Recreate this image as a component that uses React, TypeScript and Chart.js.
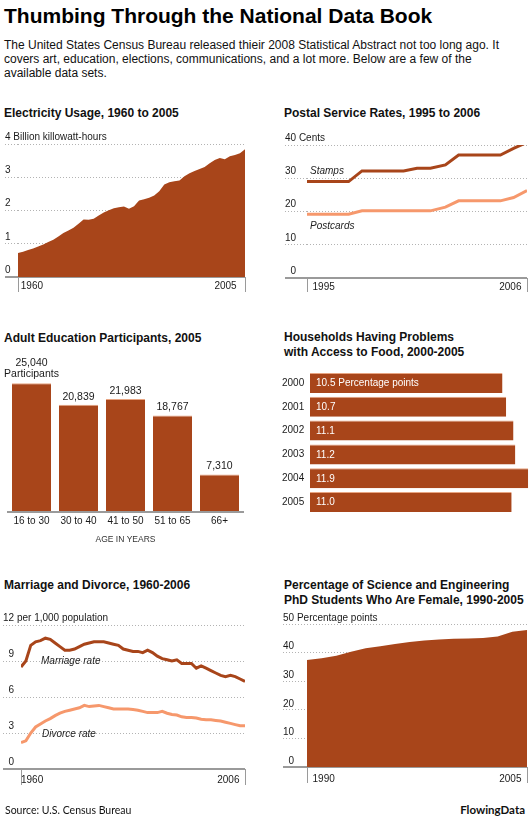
import React, { useEffect, useRef } from 'react';
import { Chart, registerables } from 'chart.js';

Chart.register(...registerables);

const FONT = "'Liberation Sans', Arial, Helvetica, sans-serif";
const RUST = '#a8451a';
const SALMON = '#f6986c';
const GRID = '#b3b3b3';
const BASE = '#9a9a9a';
const INK = '#1a1a1a';

Chart.defaults.font.family = FONT;
Chart.defaults.color = INK;

// ---------- Electricity usage ----------
const elecYears = [
  1960, 1961, 1962, 1963, 1964, 1965, 1966, 1967, 1968, 1969,
  1970, 1971, 1972, 1973, 1974, 1975, 1976, 1977, 1978, 1979,
  1980, 1981, 1982, 1983, 1984, 1985, 1986, 1987, 1988, 1989,
  1990, 1991, 1992, 1993, 1994, 1995, 1996, 1997, 1998, 1999,
  2000, 2001, 2002, 2003, 2004, 2005,
];
const elecValues = [
  0.72, 0.76, 0.81, 0.86, 0.92, 0.98, 1.05, 1.12, 1.22, 1.32,
  1.40, 1.48, 1.60, 1.73, 1.72, 1.75, 1.85, 1.94, 2.01, 2.07,
  2.10, 2.12, 2.05, 2.13, 2.30, 2.34, 2.38, 2.45, 2.58, 2.78,
  2.85, 2.88, 2.90, 3.03, 3.12, 3.19, 3.25, 3.31, 3.42, 3.52,
  3.58, 3.54, 3.63, 3.67, 3.72, 3.84,
];

// ---------- Postal rates ----------
const postalDates = [1995, 1997.08, 1997.75, 1999.83, 2000.5, 2001.17, 2001.92, 2002.58, 2004.67, 2005.33, 2006];
const stampRates = [29, 29, 32.2, 32.2, 33, 33, 34, 37, 37, 39, 40.8];
const postcardRates = [19.2, 19.2, 20.2, 20.2, 20.2, 20.2, 21.3, 23.2, 23.2, 24.2, 26.3];

// ---------- Adult education ----------
const eduGroups = ['16 to 30', '30 to 40', '41 to 50', '51 to 65', '66+'];
const eduParticipants = [25040, 20839, 21983, 18767, 7310];

// ---------- Food access ----------
const foodYears = ['2000', '2001', '2002', '2003', '2004', '2005'];
const foodPoints = [10.5, 10.7, 11.1, 11.2, 11.9, 11.0];

// ---------- Marriage and divorce ----------
const mdYears = [
  1960, 1961, 1962, 1963, 1964, 1965, 1966, 1967, 1968, 1969,
  1970, 1971, 1972, 1973, 1974, 1975, 1976, 1977, 1978, 1979,
  1980, 1981, 1982, 1983, 1984, 1985, 1986, 1987, 1988, 1989,
  1990, 1991, 1992, 1993, 1994, 1995, 1996, 1997, 1998, 1999,
  2000, 2001, 2002, 2003, 2004, 2005, 2006,
];
const marriageRates = [
  8.5, 9.0, 10.3, 10.6, 10.7, 10.9, 10.8, 10.5, 10.2, 9.9,
  9.9, 10.0, 10.2, 10.4, 10.5, 10.6, 10.6, 10.6, 10.5, 10.4,
  10.3, 10.0, 9.9, 9.8, 9.8, 9.7, 9.9, 9.7, 9.4, 9.2,
  9.1, 9.0, 9.1, 8.8, 8.8, 8.8, 8.4, 8.6, 8.4, 8.2,
  8.0, 7.8, 7.7, 7.8, 7.7, 7.5, 7.3,
];
const divorceRates = [
  2.2, 2.35, 3.0, 3.5, 3.75, 4.0, 4.2, 4.45, 4.65, 4.8,
  4.9, 5.0, 5.1, 5.3, 5.2, 5.25, 5.3, 5.2, 5.1, 5.0,
  5.0, 5.0, 5.0, 4.95, 4.9, 4.8, 4.7, 4.7, 4.7, 4.8,
  4.65, 4.55, 4.5, 4.35, 4.3, 4.3, 4.25, 4.15, 4.1, 4.1,
  4.05, 4.0, 3.9, 3.8, 3.7, 3.6, 3.6,
];

// ---------- Female PhD share ----------
const phdYears = [1990, 1991, 1992, 1993, 1994, 1995, 1996, 1997, 1998, 1999, 2000, 2001, 2002, 2003, 2004, 2005];
const phdFemale = [37.4, 38.0, 38.9, 40.3, 41.5, 42.2, 43.0, 43.7, 44.2, 44.6, 44.8, 44.9, 45.1, 45.6, 47.3, 47.9];

// ---------- helpers ----------
const isZero = (c: any) => !!(c && c.tick && c.tick.value === 0);

function yAxisCfg(max: number, step: number, width: number, labelOffset: number, unit: string) {
  const digits = String(max).length;
  return {
    type: 'linear',
    min: 0,
    max,
    afterFit: (s: any) => {
      s.width = width;
    },
    ticks: {
      stepSize: step,
      mirror: true,
      crossAlign: 'near',
      labelOffset,
      padding: -width,
      autoSkip: false,
      font: { size: 10 },
      color: INK,
      callback: (v: any) => {
        const s = String(v);
        return '\u2007'.repeat(Math.max(0, digits - s.length)) + s + (v === max ? unit : '');
      },
    },
    grid: {
      drawOnChartArea: true,
      drawTicks: true,
      tickLength: width,
      color: (c: any) => (isZero(c) ? BASE : GRID),
      lineWidth: (c: any) => (isZero(c) ? 2 : 1),
      tickColor: (c: any) => (isZero(c) ? BASE : GRID),
      tickWidth: (c: any) => (isZero(c) ? 2 : 1),
      tickBorderDash: (c: any) => (isZero(c) ? [] : [1, 2]),
    },
    border: { display: false, dash: (c: any) => (isZero(c) ? [] : [1, 2]) },
  };
}

function xAxisCfg(min: number, max: number, tickLen: number, pad: number, firstLabel: string, lastLabel: string) {
  return {
    type: 'linear',
    min,
    max,
    afterBuildTicks: (s: any) => {
      s.ticks = [{ value: min }, { value: max }];
    },
    afterFit: (s: any) => {
      s.height = 20;
    },
    grid: { drawOnChartArea: false, drawTicks: true, tickLength: tickLen, tickColor: BASE, tickWidth: 1 },
    border: { display: false },
    ticks: {
      align: 'inner',
      padding: pad,
      maxRotation: 0,
      autoSkip: false,
      font: { size: 10 },
      color: INK,
      callback: (v: any) => (v === min ? firstLabel : lastLabel),
    },
  };
}

function baseOptions(padding: any, scales: any, extra: any = {}) {
  return {
    responsive: false,
    maintainAspectRatio: false,
    animation: false,
    devicePixelRatio: 1,
    events: [],
    layout: { padding },
    plugins: { legend: { display: false }, tooltip: { enabled: false }, title: { display: false } },
    scales,
    ...extra,
  };
}

const pts = (xs: number[], ys: number[]) => xs.map((x, i) => ({ x, y: ys[i] }));

const eduLabels = {
  id: 'eduLabels',
  afterDatasetsDraw(chart: any) {
    const ctx = chart.ctx;
    const meta = chart.getDatasetMeta(0);
    ctx.save();
    ctx.font = `10.5px ${FONT}`;
    ctx.fillStyle = INK;
    ctx.textAlign = 'center';
    ctx.textBaseline = 'middle';
    meta.data.forEach((bar: any, i: number) => {
      const txt = eduParticipants[i].toLocaleString('en-US');
      if (i === 0) {
        ctx.fillText(txt, bar.x, bar.y - 20);
        ctx.fillText('Participants', bar.x, bar.y - 9);
      } else {
        ctx.fillText(txt, bar.x, bar.y - 8);
      }
    });
    ctx.restore();
  },
};

const foodLabels = {
  id: 'foodLabels',
  afterDatasetsDraw(chart: any) {
    const ctx = chart.ctx;
    const meta = chart.getDatasetMeta(0);
    const x0 = chart.scales.x.getPixelForValue(0) + 6;
    ctx.save();
    ctx.font = `10px ${FONT}`;
    ctx.fillStyle = '#ffffff';
    ctx.textAlign = 'left';
    ctx.textBaseline = 'middle';
    meta.data.forEach((bar: any, i: number) => {
      const txt = foodPoints[i].toFixed(1) + (i === 0 ? ' Percentage points' : '');
      ctx.fillText(txt, x0, bar.y + 0.5);
    });
    ctx.restore();
  },
};

function makeElectricity() {
  return {
    type: 'line',
    data: {
      datasets: [
        {
          data: pts(elecYears, elecValues),
          fill: 'origin',
          backgroundColor: RUST,
          borderWidth: 0,
          pointRadius: 0,
          tension: 0,
        },
      ],
    },
    options: baseOptions(
      { left: 5, right: 20, top: 19, bottom: 3 },
      {
        x: xAxisCfg(1960, 2005, 15, -12, ' 1960', '2005   '),
        y: yAxisCfg(4, 1, 13, -7, ' Billion killowatt-hours'),
      }
    ),
  };
}

function makePostal() {
  return {
    type: 'line',
    data: {
      datasets: [
        { data: pts(postalDates, stampRates), borderColor: RUST, borderWidth: 3, pointRadius: 0, tension: 0, fill: false },
        { data: pts(postalDates, postcardRates), borderColor: SALMON, borderWidth: 3, pointRadius: 0, tension: 0, fill: false },
      ],
    },
    options: baseOptions(
      { left: 20, right: 3, top: 20, bottom: 2 },
      {
        x: xAxisCfg(1995, 2006, 14, -11, '  1995', '2006  '),
        y: yAxisCfg(40, 10, 22, -7, ' Cents'),
      }
    ),
  };
}

function makeEducation() {
  return {
    type: 'bar',
    data: {
      labels: eduGroups,
      datasets: [
        {
          data: eduParticipants,
          backgroundColor: RUST,
          borderColor: '#e8a582',
          borderWidth: { top: 1, right: 0, bottom: 0, left: 0 },
          barPercentage: 0.83,
          categoryPercentage: 1,
        },
      ],
    },
    options: baseOptions(
      { left: 8, right: 22, top: 23, bottom: 10 },
      {
        x: {
          grid: { display: false, drawTicks: false },
          border: { display: true, color: BASE, width: 2, z: 1 },
          ticks: { padding: 3, font: { size: 10 }, color: INK, maxRotation: 0, autoSkip: false },
          title: { display: true, text: 'AGE IN YEARS', font: { size: 8.5 }, color: '#333', padding: 0 },
          afterFit: (s: any) => {
            s.height = 33;
          },
        },
        y: { display: false, min: 0, max: 28000 },
      }
    ),
    plugins: [eduLabels],
  };
}

function makeFood() {
  return {
    type: 'bar',
    data: {
      labels: foodYears,
      datasets: [
        {
          data: foodPoints,
          backgroundColor: RUST,
          borderColor: '#e8a582',
          borderWidth: { top: 1, right: 0, bottom: 0, left: 0 },
          barPercentage: 0.84,
          categoryPercentage: 1,
        },
      ],
    },
    options: baseOptions(
      { left: 17, right: 0, top: 11, bottom: 6 },
      {
        x: { display: false, min: 0, max: 12 },
        y: {
          grid: { display: false, drawTicks: false },
          border: { display: false },
          ticks: { crossAlign: 'far', padding: 0, font: { size: 10 }, color: INK, autoSkip: false },
          afterFit: (s: any) => {
            s.width = 28;
          },
        },
      },
      { indexAxis: 'y' }
    ),
    plugins: [foodLabels],
  };
}

function makeMarriage() {
  return {
    type: 'line',
    data: {
      datasets: [
        { data: pts(mdYears, marriageRates), borderColor: RUST, borderWidth: 3, pointRadius: 0, tension: 0, fill: false },
        { data: pts(mdYears, divorceRates), borderColor: SALMON, borderWidth: 3, pointRadius: 0, tension: 0, fill: false },
      ],
    },
    options: baseOptions(
      { left: 3, right: 20, top: 25, bottom: 11 },
      {
        x: xAxisCfg(1960, 2006, 16, -11, '1960', '2006  '),
        y: yAxisCfg(12, 3, 18, -7, ' per 1,000 population'),
      }
    ),
  };
}

function makePhd() {
  return {
    type: 'line',
    data: {
      datasets: [
        {
          data: pts(phdYears, phdFemale),
          fill: 'origin',
          backgroundColor: RUST,
          borderWidth: 0,
          pointRadius: 0,
          tension: 0,
        },
      ],
    },
    options: baseOptions(
      { left: 18, right: 3, top: 24, bottom: 13 },
      {
        x: xAxisCfg(1990, 2005, 16, -10, '  1990', '2005  '),
        y: yAxisCfg(50, 10, 24, -6, ' Percentage points'),
      }
    ),
  };
}

function ChartCanvas({ x, y, w, h, make }: { x: number; y: number; w: number; h: number; make: () => any }) {
  const ref = useRef<HTMLCanvasElement | null>(null);
  useEffect(() => {
    if (!ref.current) return;
    const chart = new Chart(ref.current, make() as any);
    return () => chart.destroy();
  }, []);
  return <canvas ref={ref} width={w} height={h} style={{ position: 'absolute', left: x, top: y, width: w, height: h }} />;
}

function Txt({
  x,
  cy,
  size,
  lh,
  bold,
  italic,
  family,
  right,
  color,
  children,
}: {
  x?: number;
  cy: number;
  size: number;
  lh: number;
  bold?: boolean;
  italic?: boolean;
  family?: string;
  right?: number;
  color?: string;
  children: any;
}) {
  const style: any = {
    position: 'absolute',
    top: cy - lh / 2,
    lineHeight: lh + 'px',
    fontSize: size,
    fontWeight: bold ? 'bold' : 'normal',
    fontStyle: italic ? 'italic' : 'normal',
    fontFamily: family || FONT,
    whiteSpace: 'nowrap',
    color: color || '#111',
  };
  if (right !== undefined) style.right = right;
  else style.left = x;
  return <div style={style}>{children}</div>;
}

export default function App() {
  return (
    <div
      style={{
        position: 'absolute',
        left: 0,
        top: 0,
        width: 530,
        height: 823,
        background: '#ffffff',
        overflow: 'hidden',
        fontFamily: FONT,
      }}
    >
      <Txt x={4} cy={16} size={21} lh={24} bold color="#000">
        Thumbing Through the National Data Book
      </Txt>
      <div
        style={{
          position: 'absolute',
          left: 4,
          top: 38,
          fontSize: 12,
          lineHeight: '14px',
          whiteSpace: 'nowrap',
          color: '#111',
        }}
      >
        The United States Census Bureau released thieir 2008 Statistical Abstract not too long ago. It
        <br />
        covers art, education, elections, communications, and a lot more. Below are a few of the
        <br />
        available data sets.
      </div>

      <Txt x={4} cy={113} size={12} lh={15} bold>
        Electricity Usage, 1960 to 2005
      </Txt>
      <Txt x={284} cy={113} size={12} lh={15} bold>
        Postal Service Rates, 1995 to 2006
      </Txt>
      <Txt x={4} cy={338} size={12} lh={15} bold>
        Adult Education Participants, 2005
      </Txt>
      <Txt x={284} cy={337} size={12} lh={15} bold>
        Households Having Problems
      </Txt>
      <Txt x={284} cy={352} size={12} lh={15} bold>
        with Access to Food, 2000-2005
      </Txt>
      <Txt x={4} cy={585} size={12} lh={15} bold>
        Marriage and Divorce, 1960-2006
      </Txt>
      <Txt x={284} cy={585} size={12} lh={15} bold>
        Percentage of Science and Engineering
      </Txt>
      <Txt x={284} cy={600} size={12} lh={15} bold>
        PhD Students Who Are Female, 1990-2005
      </Txt>

      <ChartCanvas x={0} y={125} w={265} h={175} make={makeElectricity} />
      <ChartCanvas x={265} y={125} w={265} h={175} make={makePostal} />
      <ChartCanvas x={0} y={345} w={265} h={210} make={makeEducation} />
      <ChartCanvas x={265} y={360} w={265} h={160} make={makeFood} />
      <ChartCanvas x={0} y={600} w={265} h={200} make={makeMarriage} />
      <ChartCanvas x={265} y={600} w={265} h={200} make={makePhd} />

      <Txt x={310} cy={171} size={10} lh={12} italic color="#222">
        Stamps
      </Txt>
      <Txt x={310} cy={226} size={10} lh={12} italic color="#222">
        Postcards
      </Txt>
      <Txt x={41} cy={661} size={10} lh={12} italic color="#222">
        Marriage rate
      </Txt>
      <Txt x={42} cy={734} size={10} lh={12} italic color="#222">
        Divorce rate
      </Txt>

      <Txt x={5} cy={810} size={10.5} lh={14} family="Lato, 'Open Sans', sans-serif" color="#111">
        Source: U.S. Census Bureau
      </Txt>
      <Txt right={5} cy={810} size={11.5} lh={14} bold family="Lato, 'Open Sans', sans-serif" color="#111">
        FlowingData
      </Txt>
    </div>
  );
}
